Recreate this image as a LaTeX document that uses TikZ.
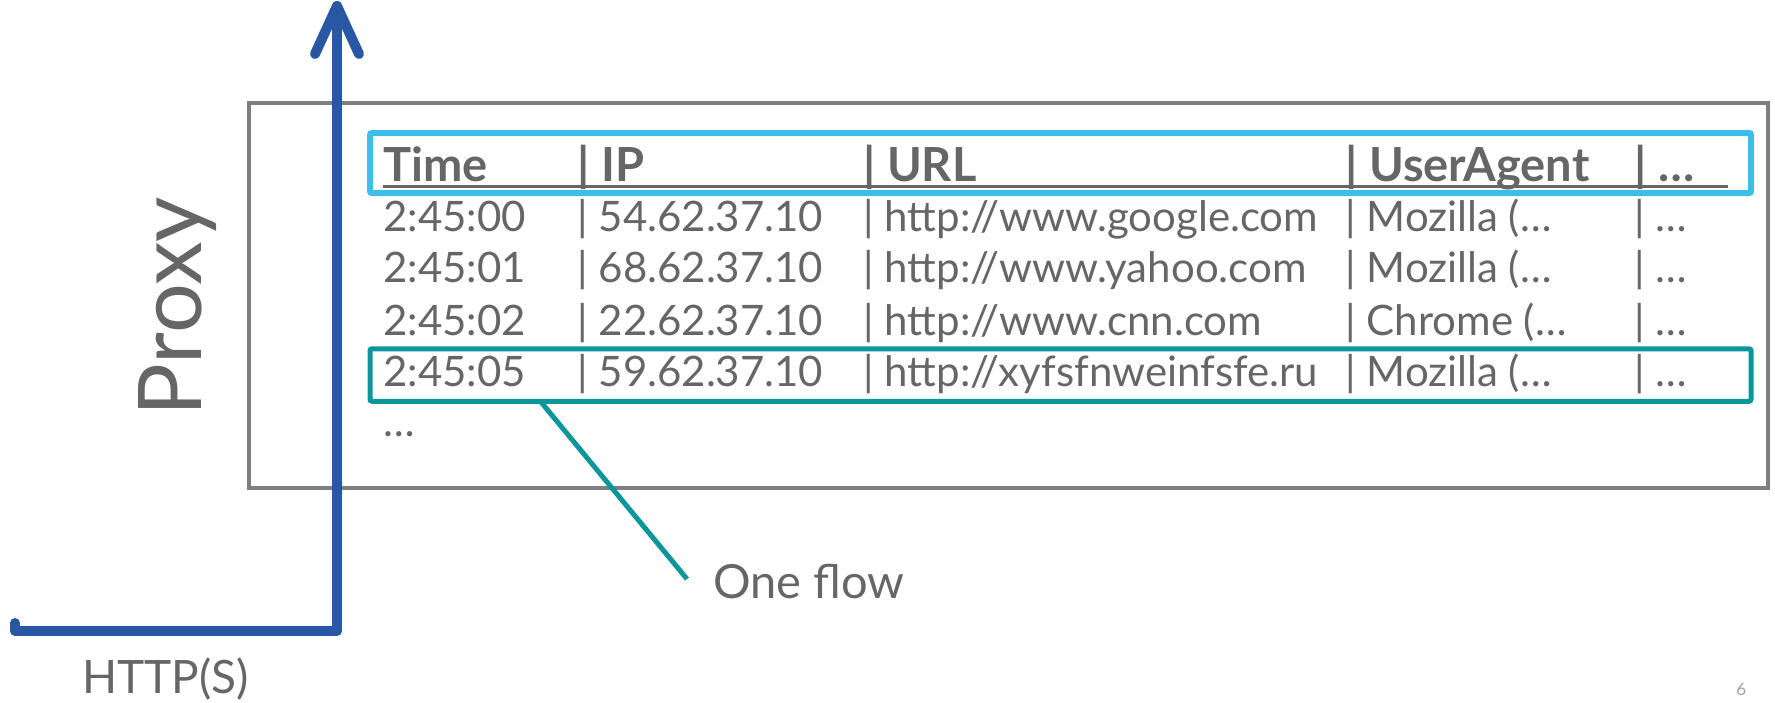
\documentclass[tikz,border=0pt]{standalone}
\usepackage{fontspec}
\setmainfont{Lato}
\definecolor{txtgray}{HTML}{666666}
\definecolor{boxgray}{HTML}{7F7F7F}
\definecolor{hlblue}{HTML}{3DBEE8}
\definecolor{flowteal}{HTML}{0A969B}
\definecolor{arrowblue}{HTML}{2857A4}
\begin{document}
\begin{tikzpicture}[x=0.5pt,y=-0.5pt,
  cell/.style={text=txtgray, font=\fontsize{21}{25}\selectfont, anchor=base west, inner sep=0pt},
  hcell/.style={text=txtgray, font=\fontsize{23.5}{28}\selectfont\bfseries, anchor=base west, inner sep=0pt},
  framebox/.style={draw=boxgray, line width=2pt, inner sep=0pt},
  hlbox/.style={draw=hlblue, line width=3pt, rounded corners=1pt, inner sep=0pt},
  flowbox/.style={draw=flowteal, line width=2.5pt, rounded corners=1pt, inner sep=0pt},
  flowline/.style={draw=flowteal, line width=2.5pt},
  bigarrow/.style={draw=arrowblue, line width=5pt, line cap=round, line join=round},
  label/.style={text=txtgray, inner sep=0pt}
]
\useasboundingbox (0,0) rectangle (1775,702);

% proxy frame
\node[framebox, minimum width=759.5pt, minimum height=192.5pt] (proxy) at (1008.5,295.5) {};
\node[label, font=\fontsize{44}{50}\selectfont, rotate=90, anchor=base] (proxylbl) at (201,306.5) {Proxy};

% header highlight
\node[hlbox, minimum width=690.5pt, minimum height=30pt] (hdrbox) at (1060.5,163) {};
% flow highlight
\node[flowbox, minimum width=690.5pt, minimum height=26.25pt] (flow) at (1060.5,375) {};

% header
\node[hcell] (h1) at (383,181) {Time};
\node[hcell] (h2) at (577,181) {| IP};
\node[hcell] (h3) at (863,181) {| URL};
\node[hcell] (h4) at (1345,181) {| UserAgent};
\node[hcell] (h5) at (1634,181) {| …};
\coordinate (ulA) at (383,186.5);
\coordinate (ulB) at (1728,186.5);
\draw[txtgray, line width=1.5pt] (ulA) -- (ulB);

% row 1
\node[cell] (a1) at (383,231) {2:45:00};
\node[cell] (b1) at (577,231) {| 54.62.37.10};
\node[cell] (c1) at (863,231) {| http://www.google.com};
\node[cell] (d1) at (1345,231) {| Mozilla (…};
\node[cell] (e1) at (1634,231) {| …};
% row 2
\node[cell] (a2) at (383,282.5) {2:45:01};
\node[cell] (b2) at (577,282.5) {| 68.62.37.10};
\node[cell] (c2) at (863,282.5) {| http://www.yahoo.com};
\node[cell] (d2) at (1345,282.5) {| Mozilla (…};
\node[cell] (e2) at (1634,282.5) {| …};
% row 3
\node[cell] (a3) at (383,335.5) {2:45:02};
\node[cell] (b3) at (577,335.5) {| 22.62.37.10};
\node[cell] (c3) at (863,335.5) {| http://www.cnn.com};
\node[cell] (d3) at (1345,335.5) {| Chrome (…};
\node[cell] (e3) at (1634,335.5) {| …};
% row 4
\node[cell] (a4) at (383,386.5) {2:45:05};
\node[cell] (b4) at (577,386.5) {| 59.62.37.10};
\node[cell] (c4) at (863,386.5) {| http://xyfsfnweinfsfe.ru};
\node[cell] (d4) at (1345,386.5) {| Mozilla (…};
\node[cell] (e4) at (1634,386.5) {| …};
% row 5
\node[cell] (a5) at (383,436) {…};

% callout
\node[label, font=\fontsize{23.5}{28}\selectfont, anchor=base west] (oneflow) at (713,598) {One flow};
\coordinate (callA) at (541,402);
\coordinate (callB) at (687,579);
\draw[flowline] (callA) -- (callB);

% HTTP(S) arrow
\coordinate (hs0) at (15,623);
\coordinate (hs) at (15,631);
\coordinate (corner) at (337,631);
\coordinate (tip) at (337,6);
\coordinate (armL) at (315,54);
\coordinate (armR) at (359,54);
\draw[bigarrow] (hs0) -- (hs) -- (corner) -- (tip);
\draw[bigarrow] (armL) -- (tip) -- (armR);
\node[label, font=\fontsize{23}{28}\selectfont, anchor=base west] (http) at (82,693) {HTTP(S)};

% page number
\node[label, text=txtgray!60, font=\fontsize{8.5}{10}\selectfont, anchor=base west] (pagenum) at (1736,695) {6};
\end{tikzpicture}
\end{document}
